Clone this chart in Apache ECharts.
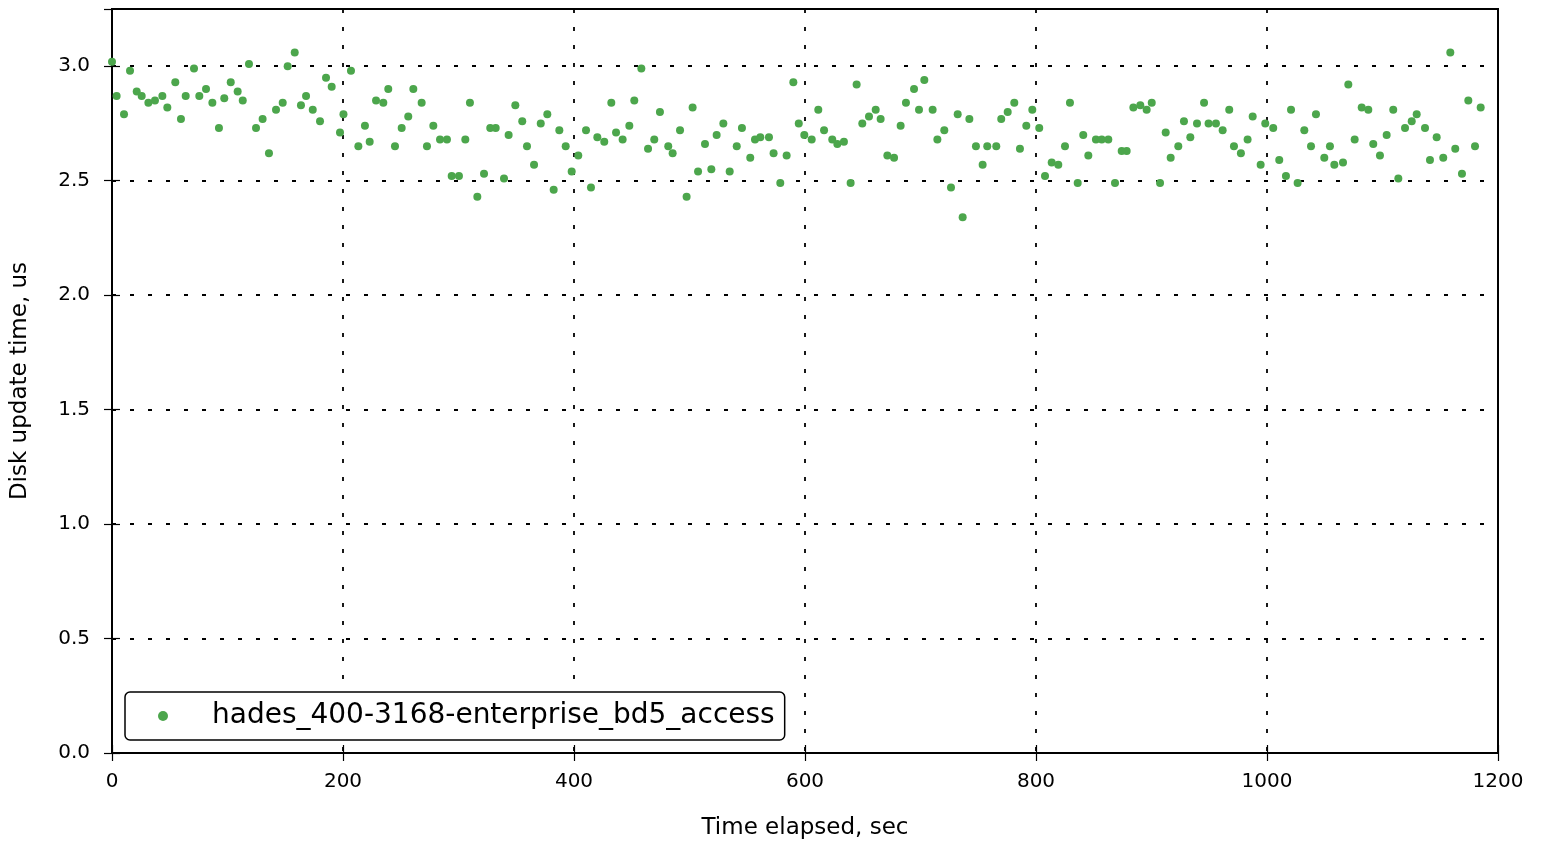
<!DOCTYPE html>
<html>
<head>
<meta charset="utf-8">
<script src="https://cdn.jsdelivr.net/npm/echarts@6/dist/echarts.min.js"></script>
<style>
  html, body { margin: 0; padding: 0; background: #fff; }
  #chart { width: 1546px; height: 849px; }
</style>
</head>
<body>
<div id="chart"></div>
<script>
// elapsed time (sec) of each sample
const elapsed = [
  0, 4, 10.4, 15.6, 21.4, 25.7, 31.5, 37.2, 43.6, 47.9, 54.8, 59.7, 63.8, 71, 75.6, 81.4, 86.9, 92.6, 97.2, 102.8,
  108.8, 113.2, 118.6, 124.7, 130.4, 135.9, 142, 147.8, 152.1, 158.2, 163.6, 168, 173.8, 180.1, 185.3, 190.2, 197.4, 200.4, 206.9, 213.3,
  219, 223.1, 228.6, 234.9, 239.2, 245, 250.8, 256.5, 260.9, 268.1, 272.7, 278.2, 284, 290, 294.1, 300.4, 305.9, 309.9, 316.3, 322.1,
  327.5, 332.2, 339.4, 343.4, 349.2, 355.2, 359.3, 365.4, 371.2, 376.9, 382.4, 387.3, 392.8, 398, 403.7, 410.4, 414.7, 420.2, 426.2, 432.3,
  436.4, 442.1, 447.9, 452.2, 458.3, 464.1, 469.5, 474.4, 481.6, 485.4, 491.8, 497.5, 502.7, 507.4, 513.4, 518.9, 523.5, 529.3, 534.8, 540.9,
  545.4, 552.6, 556.7, 561.3, 568.8, 572.8, 578.6, 584.1, 589.9, 594.6, 599.4, 605.8, 611.5, 616.5, 623.6, 628, 633.7, 639.5, 644.7, 649.6,
  655.4, 661.2, 665.5, 671.3, 677.1, 682.8, 687.4, 694.4, 698.7, 703.3, 710.5, 714.6, 720.6, 726.4, 732.2, 736.5, 742.3, 748, 753.8, 757.8,
  765.6, 769.9, 775.5, 781.2, 786.1, 791.6, 796.8, 802.8, 807.8, 813.6, 819.3, 825.1, 829.4, 836.1, 840.9, 845.3, 851.9, 856.9, 862.6, 868.4,
  874.2, 878.5, 884.3, 890.3, 895.8, 900.2, 907.4, 912.3, 916.6, 923.2, 928.1, 933.6, 939.4, 945.5, 949.4, 955.8, 961.6, 967.3, 971.4, 977.4,
  983.2, 987.6, 994.5, 998.5, 1005.4, 1010.6, 1016.4, 1020.8, 1026.5, 1032.3, 1038.1, 1042.4, 1049.6, 1054.5, 1058.3, 1065.8, 1070.4, 1075.9, 1082, 1087.7,
  1092, 1097.8, 1103.6, 1109.3, 1113.7, 1119.5, 1125.3, 1129.6, 1136.8, 1141.1, 1146.9, 1152.6, 1158.7, 1163, 1168.8, 1174.3, 1180.1, 1185
];
// disk update time (us)
const updateTime = [
  3.02, 2.87, 2.79, 2.98, 2.89, 2.87, 2.84, 2.85, 2.87, 2.82, 2.93, 2.77, 2.87, 2.99, 2.87, 2.90, 2.84, 2.73, 2.86, 2.93,
  2.89, 2.85, 3.01, 2.73, 2.77, 2.62, 2.81, 2.84, 3.00, 3.06, 2.83, 2.87, 2.81, 2.76, 2.95, 2.91, 2.71, 2.79, 2.98, 2.65,
  2.74, 2.67, 2.85, 2.84, 2.90, 2.65, 2.73, 2.78, 2.90, 2.84, 2.65, 2.74, 2.68, 2.68, 2.52, 2.52, 2.68, 2.84, 2.43, 2.53,
  2.73, 2.73, 2.51, 2.70, 2.83, 2.76, 2.65, 2.57, 2.75, 2.79, 2.46, 2.72, 2.65, 2.54, 2.61, 2.72, 2.47, 2.69, 2.67, 2.84,
  2.71, 2.68, 2.74, 2.85, 2.99, 2.64, 2.68, 2.80, 2.65, 2.62, 2.72, 2.43, 2.82, 2.54, 2.66, 2.55, 2.70, 2.75, 2.54, 2.65,
  2.73, 2.60, 2.68, 2.69, 2.69, 2.62, 2.49, 2.61, 2.93, 2.75, 2.70, 2.68, 2.81, 2.72, 2.68, 2.66, 2.67, 2.49, 2.92, 2.75,
  2.78, 2.81, 2.77, 2.61, 2.60, 2.74, 2.84, 2.90, 2.81, 2.94, 2.81, 2.68, 2.72, 2.47, 2.79, 2.34, 2.77, 2.65, 2.57, 2.65,
  2.65, 2.77, 2.80, 2.84, 2.64, 2.74, 2.81, 2.73, 2.52, 2.58, 2.57, 2.65, 2.84, 2.49, 2.70, 2.61, 2.68, 2.68, 2.68, 2.49,
  2.63, 2.63, 2.82, 2.83, 2.81, 2.84, 2.49, 2.71, 2.60, 2.65, 2.76, 2.69, 2.75, 2.84, 2.75, 2.75, 2.72, 2.81, 2.65, 2.62,
  2.68, 2.78, 2.57, 2.75, 2.73, 2.59, 2.52, 2.81, 2.49, 2.72, 2.65, 2.79, 2.60, 2.65, 2.57, 2.58, 2.92, 2.68, 2.82, 2.81,
  2.66, 2.61, 2.70, 2.81, 2.51, 2.73, 2.76, 2.79, 2.73, 2.59, 2.69, 2.60, 3.06, 2.64, 2.53, 2.85, 2.65, 2.82
];
const seriesName = 'hades_400-3168-enterprise_bd5_access';
const xTicks = [0, 200, 400, 600, 800, 1000, 1200];

const font = 'DejaVu Sans';
const dotted = { color: '#000', width: 1.8, type: [4, 14] };
const tick = { show: true, inside: true, length: 8, lineStyle: { color: '#000', width: 1.2 } };

const chart = echarts.init(document.getElementById('chart'));
chart.setOption({
  animation: false,
  backgroundColor: '#fff',
  textStyle: { fontFamily: font },
  grid: { left: 112, right: 48, top: 9, bottom: 96, show: true, borderColor: '#000', borderWidth: 2, backgroundColor: '#fff' },
  legend: {
    left: 125, bottom: 109,
    data: [seriesName],
    icon: 'circle',
    itemWidth: 10, itemHeight: 10,
    padding: [10, 10, 10, 33],
    borderColor: '#000', borderWidth: 1.5, borderRadius: 5,
    backgroundColor: '#fff',
    textStyle: { fontFamily: font, fontSize: 28, color: '#000', padding: [0, 0, 0, 39] }
  },
  xAxis: [{
    type: 'value', min: xTicks[0], max: xTicks[xTicks.length - 1], interval: 200,
    name: 'Time elapsed, sec', nameLocation: 'middle', nameGap: 64,
    nameTextStyle: { fontSize: 23, color: '#000', fontFamily: font },
    axisLine: { show: true, lineStyle: { color: '#000', width: 2 } },
    axisTick: tick,
    axisLabel: { fontSize: 20, color: '#000', margin: 19, formatter: v => String(v) },
    splitLine: { show: true, lineStyle: dotted }
  }, {
    type: 'value', position: 'top', min: 0, max: 1200, interval: 200,
    axisLine: { show: false }, axisTick: tick,
    axisLabel: { show: false }, splitLine: { show: false }
  }],
  yAxis: [{
    type: 'value', min: 0, max: 3.25, interval: 0.5,
    name: 'Disk update time, us', nameLocation: 'middle', nameGap: 80, nameRotate: 90,
    nameTextStyle: { fontSize: 23, color: '#000', fontFamily: font },
    axisLine: { show: true, lineStyle: { color: '#000', width: 2 } },
    axisTick: tick,
    axisLabel: { fontSize: 20, color: '#000', margin: 22, showMaxLabel: false, formatter: v => v.toFixed(1) },
    splitLine: { show: true, lineStyle: dotted }
  }, {
    type: 'value', position: 'right', min: 0, max: 3.25, interval: 0.5,
    axisLine: { show: false }, axisTick: tick,
    axisLabel: { show: false }, splitLine: { show: false }
  }],
  series: [{
    name: seriesName,
    type: 'scatter',
    symbol: 'circle',
    symbolSize: 8,
    itemStyle: { color: '#4ca64c', opacity: 1 },
    data: elapsed.map((t, i) => [t, updateTime[i]])
  }]
});
</script>
</body>
</html>
